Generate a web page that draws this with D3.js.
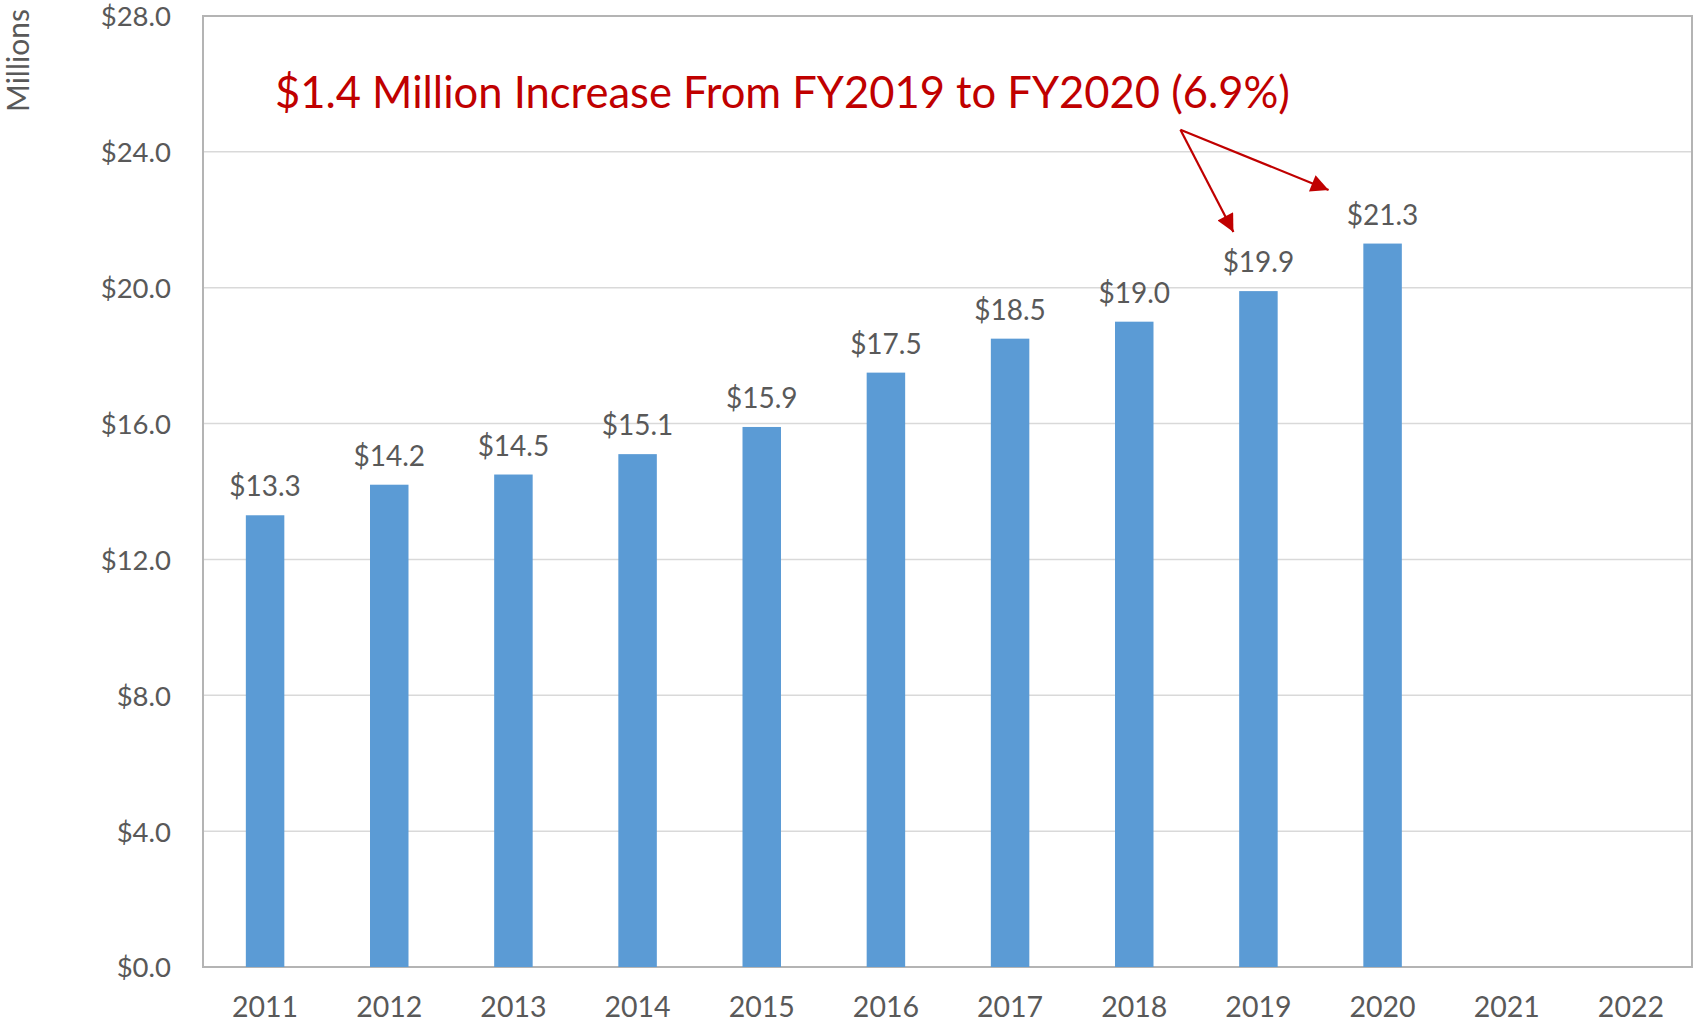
<!DOCTYPE html>
<html>
<head>
<meta charset="utf-8">
<script src="https://cdn.jsdelivr.net/npm/d3@7"></script>
<style>
  body { margin: 0; background: #fff; }
  text { font-family: Lato, "Open Sans", sans-serif; }
</style>
</head>
<body>
<div id="chart"></div>
<script>
// data
const years = ["2011","2012","2013","2014","2015","2016","2017","2018","2019","2020","2021","2022"];
const values = [13.3, 14.2, 14.5, 15.1, 15.9, 17.5, 18.5, 19.0, 19.9, 21.3, null, null];
const yTicks = [0, 4, 8, 12, 16, 20, 24, 28];
const titleText = "$1.4 Million Increase From FY2019 to FY2020 (6.9%)";
const axisTitle = "Millions";

const W = 1694, H = 1024;
const plot = {left: 203, right: 1693, top: 16, bottom: 967};

const barColor = "#5B9BD5",
  textGray = "#595959",
  red = "#C00000";

const x = d3.scaleBand()
  .domain(years)
  .range([plot.left, plot.right])
  .paddingInner(0.69)
  .paddingOuter(0.345);

const y = d3.scaleLinear()
  .domain([0, 28])
  .range([plot.bottom, plot.top]);

const fmt = d3.format(".1f");

const svg = d3.select("#chart").append("svg")
  .attr("width", W)
  .attr("height", H);

// gridlines
svg.append("g").selectAll("line")
  .data(yTicks.filter(d => d > 0 && d < 28))
  .enter().append("line")
  .attr("x1", plot.left).attr("x2", plot.right)
  .attr("y1", d => y(d)).attr("y2", d => y(d))
  .style("stroke", "#d9d9d9")
  .style("stroke-width", 1.5);

// plot frame
svg.append("rect")
  .attr("x", plot.left).attr("y", plot.top)
  .attr("width", plot.right - plot.left - 1)
  .attr("height", plot.bottom - plot.top)
  .style("fill", "none")
  .style("stroke", "#b4b4b4")
  .style("stroke-width", 2);

// y axis labels
const yAxis = d3.axisLeft(y)
  .tickValues(yTicks)
  .tickSize(0)
  .tickPadding(32)
  .tickFormat(d => "$" + fmt(d));

svg.append("g")
  .attr("transform", "translate(" + plot.left + ",0)")
  .call(yAxis)
  .call(g => g.select(".domain").remove())
  .selectAll("text")
  .style("font-family", "Lato")
  .style("font-size", "27.5px")
  .attr("fill", textGray)
  .attr("dy", "0.36em");

// x axis labels
const xAxis = d3.axisBottom(x).tickSize(0).tickPadding(0);
svg.append("g")
  .attr("transform", "translate(0," + plot.bottom + ")")
  .call(xAxis)
  .call(g => g.select(".domain").remove())
  .selectAll("text")
  .style("font-family", "Lato")
  .style("font-size", "28.5px")
  .attr("fill", textGray)
  .attr("y", 50)
  .attr("dy", 0);

// axis title
svg.append("text")
  .attr("transform", "translate(29,112) rotate(-90)")
  .attr("text-anchor", "start")
  .style("font-size", "30px")
  .attr("fill", textGray)
  .text(axisTitle);

const rows = years.map((yr, i) => ({year: yr, value: values[i]})).filter(d => d.value != null);

// bars
svg.append("g").selectAll("rect")
  .data(rows)
  .enter().append("rect")
  .attr("x", d => x(d.year))
  .attr("width", x.bandwidth())
  .attr("y", d => y(d.value))
  .attr("height", d => y(0) - y(d.value))
  .style("fill", barColor);

// value labels
svg.append("g").selectAll("text")
  .data(rows)
  .enter().append("text")
  .attr("x", d => x(d.year) + x.bandwidth() / 2)
  .attr("y", d => y(d.value) - 19)
  .attr("text-anchor", "middle")
  .style("font-size", "28px")
  .attr("fill", textGray)
  .text(d => "$" + fmt(d.value));

// annotation title
svg.append("text")
  .attr("x", plot.left + 72)
  .attr("y", y(25.3))
  .style("font-size", "43.5px")
  .attr("fill", red)
  .text(titleText);

// arrows from the annotation to the 2019 and 2020 bars
svg.append("defs").append("marker")
  .attr("id", "head")
  .attr("viewBox", "0 0 10 10")
  .attr("refX", 10).attr("refY", 5)
  .attr("markerWidth", 9).attr("markerHeight", 8)
  .attr("markerUnits", "strokeWidth")
  .attr("orient", "auto")
  .append("path")
  .attr("d", "M0,0L10,5L0,10Z")
  .style("fill", red);

const start = [x("2019") + x.bandwidth() / 2 - 78, y(24.65)];
const tips = [
  [x("2019") + x.bandwidth() / 2 - 25, y(21.64)],
  [x("2020") + x.bandwidth() / 2 - 54, y(22.88)]
];

svg.append("g").selectAll("line")
  .data(tips)
  .enter().append("line")
  .attr("x1", start[0]).attr("y1", start[1])
  .attr("x2", d => d[0]).attr("y2", d => d[1])
  .style("stroke", red)
  .style("stroke-width", 2.2)
  .attr("marker-end", "url(#head)");
</script>
</body>
</html>
